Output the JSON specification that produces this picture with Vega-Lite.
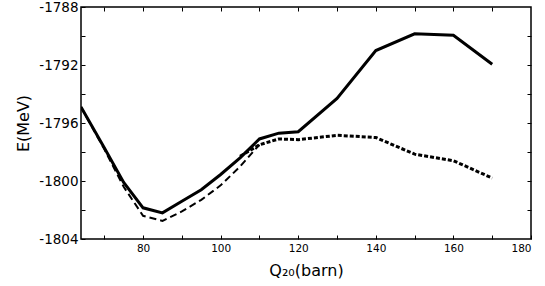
{
  "$schema": "https://vega.github.io/schema/vega-lite/v6.json",
  "width": 450,
  "height": 232,
  "autosize": {"type": "none"},
  "padding": {"left": 81, "top": 7, "right": 14, "bottom": 47},
  "background": "white",
  "view": {"stroke": "black", "strokeWidth": 1.5},
  "config": {
    "axis": {"domain": false, "grid": false, "tickColor": "black", "tickWidth": 1, "labelColor": "black", "titleColor": "black", "labelFont": "DejaVu Sans", "titleFont": "DejaVu Sans", "titleFontWeight": "normal"}
  },
  "datasets": {
    "solid": [
      {"q": 64, "e": -1794.9}, {"q": 70, "e": -1797.7}, {"q": 75, "e": -1800.1}, {"q": 80, "e": -1801.85},
      {"q": 85, "e": -1802.2}, {"q": 90, "e": -1801.4}, {"q": 95, "e": -1800.6}, {"q": 100, "e": -1799.55},
      {"q": 105, "e": -1798.4}, {"q": 110, "e": -1797.1}, {"q": 115, "e": -1796.7}, {"q": 120, "e": -1796.6},
      {"q": 130, "e": -1794.3}, {"q": 140, "e": -1791.0}, {"q": 150, "e": -1789.85}, {"q": 160, "e": -1789.95},
      {"q": 170, "e": -1791.95}
    ],
    "dashed": [
      {"q": 64, "e": -1794.9}, {"q": 70, "e": -1797.8}, {"q": 75, "e": -1800.4}, {"q": 80, "e": -1802.4},
      {"q": 85, "e": -1802.75}, {"q": 90, "e": -1802.1}, {"q": 95, "e": -1801.3}, {"q": 100, "e": -1800.3},
      {"q": 105, "e": -1799.0}, {"q": 110, "e": -1797.5}
    ],
    "dotted": [
      {"q": 105, "e": -1798.3}, {"q": 110, "e": -1797.5}, {"q": 115, "e": -1797.1}, {"q": 120, "e": -1797.15},
      {"q": 130, "e": -1796.85}, {"q": 140, "e": -1797.0}, {"q": 150, "e": -1798.15}, {"q": 160, "e": -1798.6},
      {"q": 170, "e": -1799.8}
    ]
  },
  "resolve": {"axis": {"x": "independent", "y": "independent"}},
  "layer": [
    {
      "data": {"name": "dashed"},
      "mark": {"type": "line", "color": "black", "strokeWidth": 2, "strokeDash": [7, 4], "clip": true},
      "encoding": {
        "x": {"field": "q", "type": "quantitative", "scale": {"domain": [64, 180], "nice": false, "zero": false},
          "axis": {"orient": "bottom", "values": [70, 80, 90, 100, 110, 120, 130, 140, 150, 160, 170, 180], "labelExpr": "datum.value % 20 == 0 ? datum.label : ''", "tickSize": -4, "labelPadding": 8, "labelFontSize": 10.5, "title": "Q₂₀(barn)", "titleFontSize": 16, "titlePadding": 9}},
        "y": {"field": "e", "type": "quantitative", "scale": {"domain": [-1804, -1788], "nice": false, "zero": false},
          "axis": {"orient": "left", "values": [-1804, -1802, -1800, -1798, -1796, -1794, -1792, -1790, -1788], "labelExpr": "datum.value % 4 == 0 ? '-' + abs(datum.value) : ''", "tickSize": -4, "labelPadding": 7, "labelFontSize": 13.5, "title": "E(MeV)", "titleFontSize": 16, "titlePadding": 7}}
      }
    },
    {
      "data": {"name": "solid"},
      "mark": {"type": "line", "color": "black", "strokeWidth": 3, "clip": true},
      "encoding": {
        "x": {"field": "q", "type": "quantitative", "axis": null},
        "y": {"field": "e", "type": "quantitative", "axis": null}
      }
    },
    {
      "data": {"name": "dotted"},
      "mark": {"type": "line", "color": "black", "strokeWidth": 3, "strokeDash": [4, 2], "clip": true},
      "encoding": {
        "x": {"field": "q", "type": "quantitative",
          "axis": {"orient": "top", "values": [70, 80, 90, 100, 110, 120, 130, 140, 150, 160, 170], "labels": false, "tickSize": -4, "title": null}},
        "y": {"field": "e", "type": "quantitative",
          "axis": {"orient": "right", "values": [-1802, -1800, -1798, -1796, -1794, -1792, -1790], "labels": false, "tickSize": -4, "title": null}}
      }
    }
  ]
}
